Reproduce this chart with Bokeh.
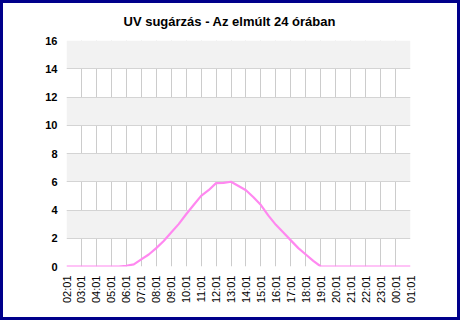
import numpy as np
from bokeh.plotting import figure
from bokeh.models import FixedTicker, Range1d, Title, InlineStyleSheet
from bokeh.embed import file_html
from bokeh.resources import INLINE

title_text = "UV sugárzás - Az elmúlt 24 órában"

# tick labels (hourly)
hour_labels = ["02:01", "03:01", "04:01", "05:01", "06:01", "07:01", "08:01", "09:01",
               "10:01", "11:01", "12:01", "13:01", "14:01", "15:01", "16:01", "17:01",
               "18:01", "19:01", "20:01", "21:01", "22:01", "23:01", "00:01", "01:01"]

# UV values, read every half hour starting at 02:01
uv_values = [0, 0, 0, 0, 0, 0, 0, 0,            # 02:01 - 05:31
             0.05, 0.15, 0.5, 0.85, 1.3, 1.8,   # 06:01 - 08:31
             2.4, 3.0, 3.7, 4.35, 5.0, 5.4,     # 09:01 - 11:31
             5.9, 5.92, 6.0, 5.7, 5.4, 4.9,     # 12:01 - 14:31
             4.35, 3.6, 2.95, 2.4, 1.85, 1.3,   # 15:01 - 17:31
             0.85, 0.4, 0, 0, 0, 0,             # 18:01 - 20:31
             0, 0, 0, 0, 0, 0, 0, 0, 0]         # 21:01 - 01:01

y_ticks = [0, 2, 4, 6, 8, 10, 12, 14, 16]

x = np.arange(len(uv_values)) * 0.5

p = figure(width=460, height=320, output_backend="svg", toolbar_location=None,
           x_range=Range1d(0, len(hour_labels) - 1), y_range=Range1d(0, 16),
           min_border_left=66, min_border_right=50, min_border_top=0, min_border_bottom=54)

p.styles = {"position": "absolute", "left": "0px", "top": "0px"}
p.stylesheets = [InlineStyleSheet(css=""":host::after {
  content: ""; position: absolute; left: 0; top: 0; right: 0; bottom: 0;
  box-sizing: border-box; border: 3px solid #00008b; pointer-events: none; z-index: 100;
}""")]

p.title = Title(text=title_text, align="left",
                text_font="Liberation Sans", text_font_size="13px", text_font_style="bold",
                text_color="#000000", offset=57, standoff=23)

p.line(x, uv_values, line_color="#ff88f0", line_width=2.2)

p.outline_line_color = None
p.background_fill_color = "white"
p.border_fill_color = "white"

p.xaxis.ticker = FixedTicker(ticks=list(range(len(hour_labels))))
p.xaxis.major_label_overrides = {i: t for i, t in enumerate(hour_labels)}
p.xaxis.major_label_orientation = np.pi / 2
p.yaxis.ticker = FixedTicker(ticks=y_ticks)

for ax in (p.xaxis, p.yaxis):
    ax.axis_line_color = None
    ax.major_tick_line_color = None
    ax.minor_tick_line_color = None
    ax.major_tick_out = 0
    ax.major_tick_in = 0
    ax.major_label_standoff = 9
    ax.major_label_text_font = "Liberation Sans"
    ax.major_label_text_font_size = "11px"
    ax.major_label_text_color = "#000000"
p.yaxis.major_label_text_font_style = "bold"

p.xgrid.grid_line_color = "#cccccc"
p.ygrid.grid_line_color = "#d4d4d4"
p.ygrid.band_fill_color = "#f2f2f2"
p.ygrid.band_fill_alpha = 1.0

open("out.html", "w").write(file_html(p, INLINE))
